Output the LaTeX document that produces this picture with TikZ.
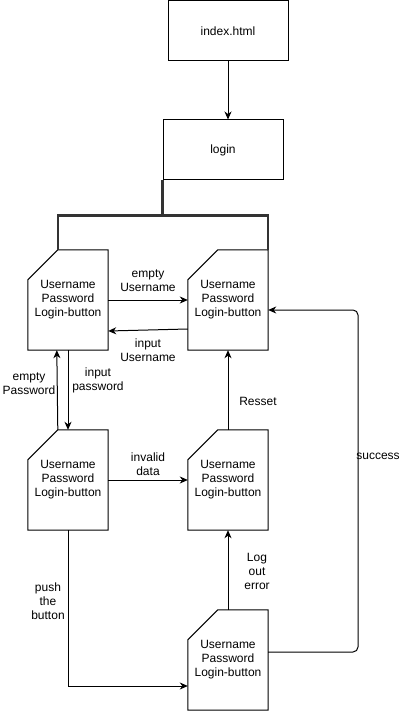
\documentclass[tikz,border=0pt]{standalone}
\usepackage{fontspec}
\setmainfont{Liberation Sans}
\usetikzlibrary{arrows.meta,calc}
\newcommand\cardshape[1]{\draw[cardline] ($(#1.north west)+(30,0)$) -- (#1.north east) -- (#1.south east) -- (#1.south west) -- ($(#1.north west)+(0,30)$) -- cycle;}
\begin{document}
\begin{tikzpicture}[x=1pt,y=-1pt,
  lbl/.style={font=\fontsize{12}{14}\selectfont, align=center, inner sep=0pt},
  boxnode/.style={draw, line width=1pt, minimum width=120pt, minimum height=60pt, inner sep=0pt, font=\fontsize{12}{14}\selectfont},
  cardnode/.style={minimum width=80pt, minimum height=100pt, inner sep=0pt, align=center, font=\fontsize{12}{14}\selectfont},
  cardline/.style={line width=1pt},
  arr/.style={line width=1pt, -{Stealth[length=8pt,width=7pt,inset=2.5pt]}},
  bracket/.style={line width=2.5pt, black!80}
]
\useasboundingbox (0,0) rectangle (401,711);

\node[boxnode] (index) at (228,31) {index.html};
\node[boxnode] (login) at (223,150) {login};

\node[cardnode] (A) at (68,300) {Username\\Password\\Login-button};
\node[cardnode] (B) at (228,300) {Username\\Password\\Login-button};
\node[cardnode] (C) at (68,480) {Username\\Password\\Login-button};
\node[cardnode] (D) at (228,480) {Username\\Password\\Login-button};
\node[cardnode] (E) at (228,660) {Username\\Password\\Login-button};
\cardshape{A}
\cardshape{B}
\cardshape{C}
\cardshape{D}
\cardshape{E}

% index -> login
\draw[arr] (index.south) -- (index.south |- login.north);

% bracket from login
\coordinate (Acut) at ($(A.north west)+(30,0)$);
\coordinate (jn) at ($(login.south west)+(0,35)$);
\draw[bracket] (login.south west) -- (jn);
\draw[bracket] (Acut) |- (jn) -| (B.north east);

% A <-> B
\draw[arr] (A.east) -- (B.west);
\draw[arr] ($(B.west)+(0,29)$) -- ($(A.east)+(0,31)$);
\node[lbl] (lEU) at (148,281) {empty\\Username};
\node[lbl] (lIU) at (148,350) {input\\Username};

% A <-> C
\coordinate (Ccut) at ($(C.north west)+(30,0)$);
\draw[arr] (A.south) -- (C.north);
\draw[arr] (Ccut) -- ($(A.south west)+(29,0)$);
\node[lbl] (lEP) at (29,384) {empty\\Password};
\node[lbl] (lIP) at (98,380) {input\\password};

% C -> D
\draw[arr] (C.east) -- (D.west);
\node[lbl] (lID) at (148,464) {invalid\\data};

% D -> B
\draw[arr] (D.north) -- (B.south);
\node[lbl] (lR) at (258,401) {Resset};

% E -> D
\draw[arr] (E.north) -- (D.south);
\node[lbl] (lLOE) at (257,571) {Log\\out\\error};

% C -> E
\coordinate (Ein) at ($(E.west)+(0,26)$);
\draw[arr] (C.south) |- (Ein);
\node[lbl] (lPB) at (48,601) {push\\the\\button};

% E -> B success
\coordinate (Eout) at ($(E.east)+(0,-8)$);
\coordinate (Bin) at ($(B.east)+(0,10)$);
\coordinate (sx) at (358,0);
\draw[arr, rounded corners=5pt] (Eout) -| (sx |- Bin) -- (Bin);
\node[lbl] (lS) at (378,456) {success};
\end{tikzpicture}
\end{document}
